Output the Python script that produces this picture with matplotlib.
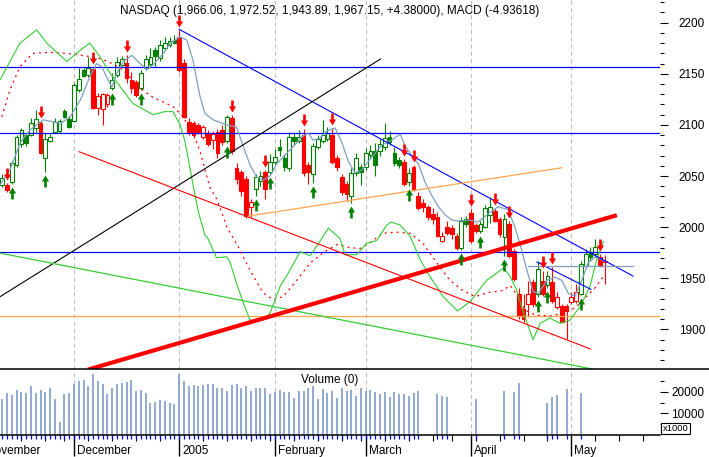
"""
plot.py
=======
NASDAQ daily candlestick chart (Nov 2004 - May 2005) with trend lines,
buy/sell signal arrows and a volume strip underneath.

x axis = trading-day index (0 = 1 Dec 2004), y axis = index level.
"""

import matplotlib
matplotlib.use("Agg")
import matplotlib.pyplot as plt
import matplotlib.transforms as mtransforms
from matplotlib.lines import Line2D
from matplotlib.patches import Rectangle
from matplotlib.path import Path
import numpy as np

plt.rcParams["font.family"] = ["Liberation Sans", "DejaVu Sans"]

# ---------------------------------------------------------------------------
# Data
# ---------------------------------------------------------------------------

FIRST_DAY = -15  # 9 Nov 2004

opens = [
    2041, 2041, 2044, 2061, 2081, 2090, 2090, 2097, 2102, 2068,
    2084, 2093, 2094, 2114, 2106,
    2104, 2134, 2154, 2149, 2155, 2117, 2116, 2120, 2136, 2149,
    2159, 2161, 2144, 2142, 2136, 2156, 2160, 2173, 2165, 2175,
    2178, 2183, 2186, 2161, 2103, 2102, 2100, 2088, 2092, 2085,
    2093, 2095, 2084, 2107, 2058, 2054, 2047, 2020, 2037, 2045,
    2054, 2054, 2064, 2078, 2068, 2058, 2088, 2084, 2090, 2061,
    2052, 2078, 2084, 2086, 2090, 2068, 2049, 2042, 2030, 2053,
    2059, 2059, 2071, 2074, 2074, 2078, 2088, 2073, 2066, 2064,
    2044, 2059, 2030, 2024, 2020, 2013, 2010, 1986, 2000, 1999,
    1991, 1980, 2008, 2014, 2002, 1996, 2000, 2012, 2016, 2008,
    1990, 2003, 1977, 1935, 1920, 1925, 1946, 1935, 1947, 1943,
    1946, 1922, 1923, 1923, 1927, 1928, 1935, 1962, 1976, 1974,
    1971, 1966.06,
]
highs = [
    2052, 2043, 2065, 2090, 2097, 2092, 2107, 2115, 2104, 2092,
    2091, 2107, 2106, 2116, 2109,
    2141, 2156, 2156, 2166, 2157, 2131, 2131, 2131, 2151, 2166,
    2167, 2168, 2152, 2144, 2154, 2168, 2175, 2176, 2183, 2186,
    2186, 2188, 2193, 2164, 2107, 2104, 2102, 2100, 2095, 2094,
    2096, 2100, 2110, 2110, 2063, 2056, 2050, 2028, 2052, 2055,
    2056, 2072, 2076, 2086, 2072, 2093, 2092, 2095, 2096, 2064,
    2082, 2090, 2105, 2098, 2097, 2071, 2052, 2045, 2058, 2073,
    2062, 2077, 2080, 2082, 2086, 2102, 2094, 2078, 2069, 2067,
    2058, 2061, 2034, 2028, 2022, 2019, 2015, 1995, 2006, 2002,
    1994, 2010, 2011, 2018, 2004, 2006, 2022, 2029, 2019, 2010,
    2013, 2006, 1979, 1940, 1935, 1947, 1949, 1967, 1957, 1957,
    1961, 1937, 1925, 1925, 1937, 1944, 1967, 1979, 1981, 1988,
    1974, 1972.52,
]
lows = [
    2039, 2034, 2042, 2059, 2078, 2079, 2089, 2093, 2072, 2054,
    2083, 2092, 2092, 2107, 2097,
    2103, 2132, 2147, 2147, 2116, 2110, 2100, 2118, 2134, 2147,
    2158, 2141, 2131, 2127, 2134, 2154, 2158, 2157, 2163, 2173,
    2176, 2179, 2152, 2107, 2090, 2087, 2091, 2086, 2079, 2076,
    2068, 2080, 2082, 2072, 2042, 2030, 2009, 2010, 2030, 2040,
    2028, 2052, 2062, 2070, 2055, 2055, 2080, 2082, 2050, 2042,
    2043, 2076, 2082, 2084, 2062, 2055, 2031, 2026, 2024, 2050,
    2041, 2056, 2068, 2050, 2070, 2075, 2080, 2060, 2058, 2040,
    2040, 2035, 2017, 2015, 2007, 2003, 1990, 1985, 1992, 1988,
    1978, 1978, 2000, 1984, 1994, 1994, 1999, 2004, 2005, 1990,
    1972, 1970, 1947, 1910, 1907, 1912, 1922, 1932, 1933, 1940,
    1926, 1920, 1906, 1891, 1925, 1926, 1934, 1960, 1967, 1971,
    1961, 1943.89,
]
closes = [
    2048, 2036, 2063, 2088, 2095, 2082, 2102, 2106, 2073, 2086,
    2088, 2103, 2104, 2108, 2098,
    2139, 2145, 2148, 2156, 2117, 2128, 2130, 2129, 2144, 2162,
    2164, 2146, 2136, 2129, 2151, 2164, 2166, 2167, 2178, 2180,
    2182, 2180, 2154, 2108, 2092, 2090, 2093, 2098, 2081, 2091,
    2073, 2083, 2108, 2074, 2047, 2035, 2011, 2025, 2049, 2050,
    2037, 2064, 2069, 2075, 2059, 2088, 2084, 2088, 2053, 2054,
    2079, 2086, 2090, 2092, 2064, 2059, 2034, 2032, 2053, 2068,
    2054, 2073, 2074, 2061, 2081, 2087, 2083, 2063, 2061, 2042,
    2053, 2037, 2019, 2020, 2010, 2008, 1991, 1991, 1994, 1993,
    1980, 2006, 2003, 1986, 1996, 2003, 2019, 2020, 2006, 1993,
    2008, 1972, 1949, 1913, 1910, 1935, 1925, 1959, 1935, 1952,
    1928, 1932, 1907, 1918, 1932, 1937, 1964, 1974, 1971, 1981,
    1963, 1967.15,
]

# signal days (red = sell arrow above the bar, green = buy arrow below)
sell_days = [-14, -7, 4, 11, 22, 33, 40, 48, 54, 69, 71, 83, 88, 91, 98, 100, 110]
buy_days = [-13, -6, 8, 14, 32, 38, 41, 50, 58, 70, 81, 85, 90, 97, 99, 106]

# short moving average (steel blue)
ma_days = [-15.5, -13.4, -11.3, -9.2, -6.4, -4.3, -2.9, -0.8, 1.3, 3.3,
           4.7, 5.8, 6.8, 7.9, 8.9, 10.3, 12.1, 13.4, 15.2, 16.6,
           18.7, 20.1, 22.2, 23.6, 24.9, 26.3, 27.4, 29.1, 31.9, 34.0,
           35.4, 36.8, 38.2, 39.6, 41.0, 42.4, 43.8, 45.9, 47.6, 49.0,
           50.0, 51.4, 52.8, 54.6, 56.0, 57.4, 58.8, 60.2, 61.5, 62.9,
           64.3, 66.4, 68.2, 69.2, 70.6, 72.0, 73.4, 74.8, 76.2, 77.6,
           79.0, 80.4, 82.5, 84.5, 86.6, 88.7, 90.8, 92.2, 93.6, 94.7,
           96.0, 97.1, 98.9, 100.6, 102.0, 103.4, 104.8, 106.2, 107.5, 109.0,
           110.4, 111.0]
ma_prices = [2041, 2056, 2082, 2095, 2105, 2103, 2101, 2108, 2124, 2147,
             2160, 2157, 2147, 2137, 2150, 2162, 2168, 2162, 2154, 2159,
             2170, 2180, 2186, 2183, 2163, 2129, 2111, 2105, 2100, 2098,
             2079, 2061, 2049, 2046, 2050, 2062, 2069, 2079, 2088, 2092,
             2085, 2087, 2094, 2097, 2083, 2064, 2053, 2056, 2064, 2072,
             2080, 2085, 2091, 2080, 2070, 2062, 2044, 2031, 2020, 2012,
             2007, 2006, 2007, 2005, 2013, 2020, 2017, 2000, 1978, 1958,
             1937, 1935, 1948, 1951, 1948, 1935, 1933, 1948, 1965, 1971,
             1968, 1966]

# red dotted indicator
dot_days = [-15.1, -13.4, -11.3, -8.6, -5.0, -1.5, 1.9, 5.4, 7.5, 9.6,
            12.3, 14.4, 16.5, 20.7, 22.8, 24.9, 26.3, 28.4, 29.9, 32.0,
            34.3, 36.8, 39.5, 41.6, 43.7, 46.6, 49.4, 52.1, 55.0, 57.7,
            59.8, 61.9, 64.6, 67.5, 70.3, 73.0, 75.9, 78.6, 81.3, 83.9,
            86.6, 89.7, 91.2, 92.6, 94.3, 96.4, 99.5, 102.7, 104.8, 106.9,
            109.0, 110.6]
dot_prices = [2108, 2134, 2157, 2170, 2171, 2170, 2168, 2165, 2161, 2156,
              2144, 2134, 2127, 2118, 2108, 2092, 2075, 2039, 2027, 2000,
              1981, 1958, 1936, 1929, 1932, 1948, 1965, 1975, 1983, 1980,
              1979, 1985, 1994, 1995, 1994, 1984, 1965, 1948, 1938, 1932,
              1936, 1938, 1943, 1934, 1919, 1914, 1913, 1916, 1921, 1931,
              1941, 1951]

# green band line
band_days = [-15.47, -11.3, -7.8, -5.7, -1.5, 1.3, 3.3, 5.4, 7.5, 12.3,
             16.5, 19.0, 20.7, 22.2, 23.2, 23.9, 24.9, 26.0, 27.4, 28.0,
             29.8, 31.9, 32.6, 34.0, 35.4, 36.8, 39.6, 41.0, 43.1, 44.8,
             47.3, 49.4, 51.4, 53.2, 55.6, 56.7, 59.1, 61.2, 63.3, 65.4,
             66.3, 68.2, 70.3, 72.4, 74.4, 77.2, 80.2, 82.8, 86.3, 88.4,
             89.8, 91.2, 92.6, 94.0, 96.0, 97.5, 99.5, 101.6, 103.7, 105.8,
             107.9, 109.3, 110.7]
band_prices = [2144, 2180, 2193, 2180, 2162, 2173, 2180, 2167, 2151, 2121,
               2110, 2113, 2113, 2100, 2084, 2067, 2041, 2015, 1992, 1989,
               1970, 1971, 1966, 1945, 1926, 1909, 1909, 1916, 1942, 1955,
               1976, 1972, 1986, 1999, 1989, 1973, 1973, 1984, 1987, 2002,
               2005, 2002, 1991, 1968, 1952, 1932, 1918, 1927, 1948, 1955,
               1960, 1952, 1938, 1916, 1890, 1906, 1911, 1906, 1909, 1922,
               1942, 1968, 1986]

# hand-drawn trend lines: (start day, end day), (start price, end price)
blue_trend = ([22.0, 116.9], [2193.5, 1952.1])
blue_short = ([96.8, 108.1], [1965.8, 1939.1])
black_trend = ([-15.47, 64.1], [1931.9, 2164.5])
red_thick = ([3.3, 113.1], [1861.1, 2011.1])
red_thin = ([1.05, 108.05], [2073.8, 1880.7])
orange_trend = ([36.45, 102.0], [2010.8, 2058.1])
green_trend = ([-15.47, 108.5], [1974.6, 1861.1])
grey_level = ([95.0, 116.9], [1962.2, 1962.2])

blue_levels = [2156.3, 2091.8, 1975.6]
orange_level = 1912.7

# volume (x1000); days without a bar are simply missing
vol_days = list(range(-15, 73)) + [76, 77, 78, 84, 90, 92, 93, 99, 100, 101, 103, 106]
vol_values = [
    16800, 19500, 18400, 20800, 19700, 19200, 22800, 19200, 20800, 19700,
    21600, 16800, 6300, 18900, 19500,
    23700, 25000, 25200, 22400, 28100, 24900, 23700, 18900, 21600, 23300,
    24100, 24400, 25200, 20500, 20800, 19200, 14700, 15100, 16300, 15600,
    14800, 14400, 28100, 24700, 22800, 22900, 22400, 22900, 23600, 23700,
    21600, 21600, 20500, 22900, 23300, 21900, 22400, 20300, 21800, 21800,
    21800, 18900, 19900, 20800, 19900, 19900, 17300, 20300, 20300, 21600,
    22400, 16800, 21300, 19200, 20300, 17100, 21600, 20300, 20800, 18000,
    21800, 20300, 20800, 19900, 18900, 19900, 17400, 19900, 18900, 18900,
    17900, 19400, 20300,
    18900, 17900, 17400, 16500, 20300, 19900, 24200, 15000, 17400, 18500,
    21300, 19400,
]

month_days = [0, 22, 42, 61, 83, 104]
label_days = [-19, 0, 22, 42, 61, 83, 104]
label_names = ["November", "December", "2005", "February", "March", "April", "May"]
week_days = [-11, -6, -2, 3, 8, 13, 18, 22, 27, 32, 37, 41, 46, 51, 56, 60,
             65, 70, 75, 79, 84, 89, 94, 99, 104, 109, 114, 119]

TITLE = "NASDAQ (1,966.06, 1,972.52, 1,943.89, 1,967.15, +4.38000), MACD (-4.93618)"

# ---------------------------------------------------------------------------
# Style
# ---------------------------------------------------------------------------

RED = "#ff0000"
GREEN = "#008000"
BLUE = "#0000ff"
MA_BLUE = "#7f9fc0"
BAND_GREEN = "#33cc33"
ORANGE = "#ffa64d"
GRID = "#bcbcbc"
VOL_BLUE = "#7f9cc9"
FS = 8.5
BODY_W = 0.78

W, H = 709, 457
X_RANGE = (-15.47, 122.54)

DOWN_ARROW = Path(
    [(-0.22, 1), (0.22, 1), (0.22, 0), (0.6, 0), (0, -1), (-0.6, 0), (-0.22, 0), (-0.22, 1)],
    [Path.MOVETO] + [Path.LINETO] * 6 + [Path.CLOSEPOLY],
)
UP_ARROW = Path(
    [(-0.22, -1), (0.22, -1), (0.22, 0), (0.6, 0), (0, 1), (-0.6, 0), (-0.22, 0), (-0.22, -1)],
    [Path.MOVETO] + [Path.LINETO] * 6 + [Path.CLOSEPOLY],
)


def signal_colours(days):
    """Bar colour follows the most recent signal (red after sell, green after buy)."""
    sells, buys = set(sell_days), set(buy_days)
    state = GREEN
    out = []
    for d in days:
        if d in sells:
            state = RED
        elif d in buys:
            state = GREEN
        out.append(state)
    return out


def draw_candles(ax, days, colours):
    ax.vlines(days, lows, highs, colors=colours, linewidth=0.8, zorder=2)
    for d, o, c, col in zip(days, opens, closes, colours):
        bottom = min(o, c)
        height = max(abs(c - o), 0.5)
        face = "white" if c >= o else col
        ax.add_patch(Rectangle((d - BODY_W / 2, bottom), BODY_W, height,
                               facecolor=face, edgecolor=col, linewidth=0.8, zorder=2.1))


def draw_price_panel(fig, ax):
    days = np.arange(FIRST_DAY, FIRST_DAY + len(closes))
    colours = signal_colours(days)

    for d in month_days:
        ax.axvline(d, color=GRID, linewidth=0.75, linestyle=(0, (4, 3)), zorder=1)

    draw_candles(ax, days, colours)

    for lvl in blue_levels:
        ax.axhline(lvl, color=BLUE, linewidth=0.9, zorder=3)
    ax.axhline(orange_level, color=ORANGE, linewidth=0.9, zorder=3)

    ax.plot(ma_days, ma_prices, color=MA_BLUE, linewidth=0.9, zorder=3)
    ax.plot(dot_days, dot_prices, color=RED, linewidth=0.9, linestyle=(0, (1.6, 3.2)), zorder=3)
    ax.plot(band_days, band_prices, color=BAND_GREEN, linewidth=0.8, zorder=3)

    ax.plot(*blue_trend, color=BLUE, linewidth=0.8, zorder=3)
    ax.plot(*blue_short, color=BLUE, linewidth=0.8, zorder=3)
    ax.plot(*black_trend, color="black", linewidth=0.8, zorder=3)
    ax.plot(*red_thin, color=RED, linewidth=0.8, zorder=3)
    ax.plot(*orange_trend, color=ORANGE, linewidth=0.9, zorder=3)
    ax.plot(*green_trend, color=BAND_GREEN, linewidth=0.9, zorder=3)
    ax.plot(*grey_level, color=MA_BLUE, linewidth=0.9, zorder=3)
    ax.plot(*red_thick, color=RED, linewidth=3.0, zorder=3.5)

    # signal arrows, a few pixels clear of the bar
    above = mtransforms.offset_copy(ax.transData, fig=fig, y=9, units="dots")
    below = mtransforms.offset_copy(ax.transData, fig=fig, y=-9, units="dots")
    hi = dict(zip(days, highs))
    lo = dict(zip(days, lows))
    ax.plot(sell_days, [hi[d] for d in sell_days], linestyle="none", marker=DOWN_ARROW,
            markersize=8.6, color=RED, markeredgewidth=0, transform=above, zorder=5)
    ax.plot(buy_days, [lo[d] for d in buy_days], linestyle="none", marker=UP_ARROW,
            markersize=8.6, color=GREEN, markeredgewidth=0, transform=below, zorder=5)

    ax.set_xlim(*X_RANGE)
    ax.set_ylim(1861.2, 2222.2)
    for s in ax.spines.values():
        s.set_visible(False)
    ax.tick_params(axis="x", which="both", bottom=False, labelbottom=False)
    ax.yaxis.tick_right()
    ax.set_yticks(np.arange(1900, 2201, 50))
    ax.set_yticks(np.arange(1870, 2221, 10), minor=True)
    ax.tick_params(axis="y", which="major", length=5.8, width=0.8, pad=26.6, labelsize=FS)
    ax.tick_params(axis="y", which="minor", length=2.9, width=0.8)
    for lbl in ax.get_yticklabels():
        lbl.set_horizontalalignment("right")

    ax.text(0.5, 1 - 11 / 369, TITLE, transform=ax.transAxes, ha="center", va="center",
            fontsize=FS)


def draw_volume_panel(fig, axv):
    for d in month_days:
        axv.axvline(d, color=GRID, linewidth=0.75, linestyle=(0, (4, 3)), zorder=1)

    axv.vlines(vol_days, 0, vol_values, color=VOL_BLUE, linewidth=1.2, zorder=2)

    # small blue marks under every bar that has a volume value
    trans = mtransforms.blended_transform_factory(axv.transData, axv.transAxes)
    axv.vlines(vol_days, -0.05, 0, transform=trans, color=BLUE, linewidth=0.9, clip_on=False)

    axv.set_xlim(*X_RANGE)
    axv.set_ylim(0, 30400)
    for name in ("top", "left", "right"):
        axv.spines[name].set_visible(False)
    axv.spines["bottom"].set_linewidth(1.1)

    axv.set_xticks(month_days)
    axv.set_xticks(week_days, minor=True)
    axv.tick_params(axis="x", which="major", length=15, width=1.0, labelbottom=False)
    axv.tick_params(axis="x", which="minor", length=4.3, width=0.8)

    axv.yaxis.tick_right()
    axv.set_yticks([10000, 20000])
    axv.set_yticks([5000, 15000, 25000], minor=True)
    axv.tick_params(axis="y", which="major", length=5.8, width=0.8, pad=26.0, labelsize=FS)
    axv.tick_params(axis="y", which="minor", length=2.9, width=0.8)
    for lbl in axv.get_yticklabels():
        lbl.set_horizontalalignment("right")

    lab_trans = mtransforms.offset_copy(trans, fig=fig, x=3, units="dots")
    for d, name in zip(label_days, label_names):
        axv.text(d, -0.23, name, transform=lab_trans, ha="left", va="center", fontsize=FS)

    axv.text(0.5, 0.83, "Volume (0)", transform=axv.transAxes, ha="center", va="center",
             fontsize=FS)


def main():
    fig = plt.figure(figsize=(W / 100, H / 100), dpi=100)
    ax = fig.add_axes([0, 1 - 369 / H, 660 / W, 369 / H])
    axv = fig.add_axes([0, 1 - 435.3 / H, 660 / W, 66.3 / H])

    draw_price_panel(fig, ax)
    draw_volume_panel(fig, axv)

    # separator between price and volume panels runs the full width
    fig.add_artist(Line2D([0, 1], [1 - 369 / H] * 2, transform=fig.transFigure,
                          color="black", linewidth=1.1))
    fig.text(675.5 / W, 1 - 428.5 / H, "x1000", ha="center", va="center", fontsize=6.8,
             bbox=dict(boxstyle="square,pad=0.12", facecolor="white", edgecolor="black",
                       linewidth=0.8))

    fig.savefig("out.png", dpi=100)
    plt.close(fig)


if __name__ == "__main__":
    main()
